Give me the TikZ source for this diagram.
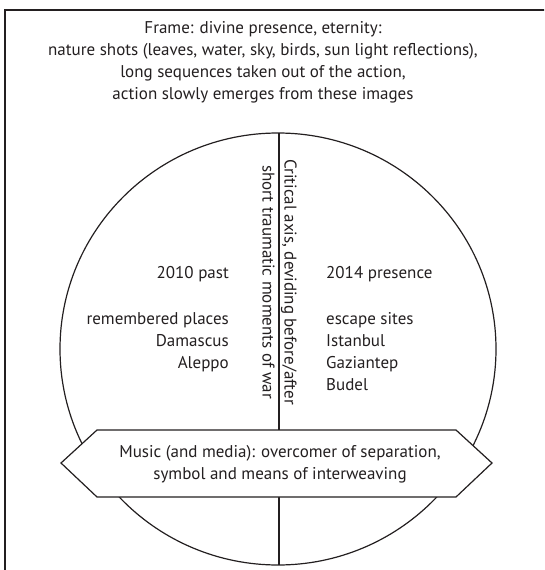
\documentclass[tikz,border=0pt]{standalone}
\usepackage{fontspec}
\setmainfont{PT Sans}
\definecolor{ink}{HTML}{231F20}
\tikzset{
  lbl/.style={text=ink, font=\fontsize{17}{22}\selectfont, inner sep=0pt},
  lin/.style={draw=ink, line width=1.2pt}
}
\begin{document}
\begin{tikzpicture}[x=1pt,y=-1pt]
\useasboundingbox (0,0) rectangle (544,570);
\clip (0,0) rectangle (544,570);
% outer frame (extends beyond the picture at right and bottom)
\draw[lin] (5,10) rectangle (600,640);
% circle
\draw[lin] (278,349) ellipse [x radius=218pt, y radius=216pt];
% axis
\coordinate (axtop) at (279,133);
\coordinate (axbot) at (279,565);
\draw[lin] (axtop) -- (axbot);
% banner
\coordinate (h1) at (61,463);
\coordinate (h2) at (97,430);
\coordinate (h3) at (456,430);
\coordinate (h4) at (492,463);
\coordinate (h5) at (456,497);
\coordinate (h6) at (97,497);
\draw[lin, fill=white, line join=miter] (h1) -- (h2) -- (h3) -- (h4) -- (h5) -- (h6) -- cycle;
\node[lbl, align=center] (music) at (280,464) {Music (and media): overcomer of separation,\\symbol and means of interweaving};
% frame text
\node[lbl, align=center, anchor=north] (frame) at (263,21) {Frame: divine presence, eternity:\\nature shots (leaves, water, sky, birds, sun light reflections),\\long sequences taken out of the action,\\action slowly emerges from these images};
% left
\node[lbl, anchor=base east] (past) at (229,278) {2010 past};
\node[lbl, align=right, anchor=north east] (places) at (229,312) {remembered places\\Damascus\\Aleppo};
% right
\node[lbl, anchor=base west] (present) at (326,278) {2014 presence};
\node[lbl, align=left, anchor=north west] (sites) at (326,312) {escape sites\\Istanbul\\Gaziantep\\Budel};
% axis text
\node[lbl, align=center, rotate=-90] (axis) at (279.5,282) {Critical axis, deviding before/after\\short traumatic moments of war};
\end{tikzpicture}
\end{document}
